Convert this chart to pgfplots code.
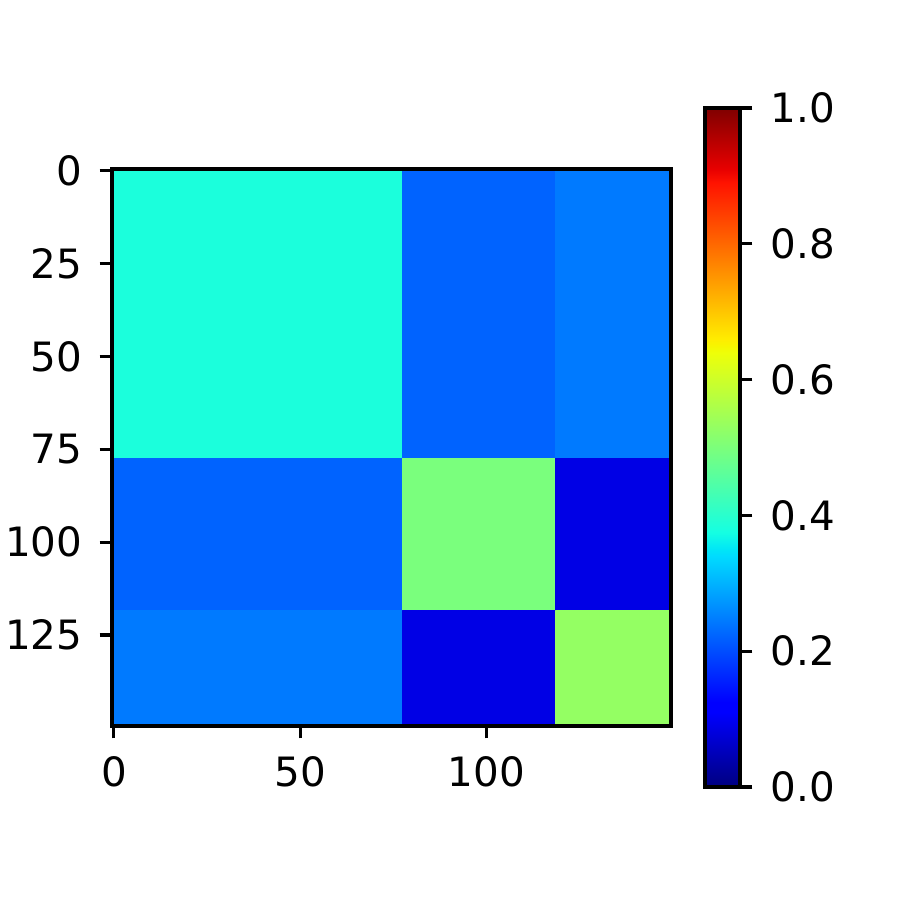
\documentclass[border=0pt]{standalone}
\usepackage{fontspec}
\setmainfont{DejaVu Sans}
\usepackage{pgfplots}
\pgfplotsset{compat=1.18}

\pgfplotsset{
  colormap={mpljet}{
    rgb(0pt)=(0,0,0.5)
    rgb(11pt)=(0,0,1)
    rgb(12.5pt)=(0,0,1)
    rgb(34pt)=(0,0.86,1)
    rgb(35pt)=(0,0.9,0.968)
    rgb(37.5pt)=(0.081,1,0.887)
    rgb(64pt)=(0.935,1,0.032)
    rgb(65pt)=(0.968,0.963,0)
    rgb(66pt)=(1,0.926,0)
    rgb(89pt)=(1,0.074,0)
    rgb(91pt)=(0.909,0,0)
    rgb(100pt)=(0.5,0,0)
  },
  /pgf/number format/assume math mode=true,
}

% block matrix, cell edges at -0.5 / 77.5 / 118.5 / 149.5
\pgfplotstableread{
x y c
-0.5 -0.5 0.383
77.5 -0.5 0.383
77.5 77.5 0.383
-0.5 77.5 0.383
77.5 -0.5 0.222
118.5 -0.5 0.222
118.5 77.5 0.222
77.5 77.5 0.222
118.5 -0.5 0.245
149.5 -0.5 0.245
149.5 77.5 0.245
118.5 77.5 0.245
-0.5 77.5 0.222
77.5 77.5 0.222
77.5 118.5 0.222
-0.5 118.5 0.222
77.5 77.5 0.498
118.5 77.5 0.498
118.5 118.5 0.498
77.5 118.5 0.498
118.5 77.5 0.088
149.5 77.5 0.088
149.5 118.5 0.088
118.5 118.5 0.088
-0.5 118.5 0.245
77.5 118.5 0.245
77.5 149.5 0.245
-0.5 149.5 0.245
77.5 118.5 0.088
118.5 118.5 0.088
118.5 149.5 0.088
77.5 149.5 0.088
118.5 118.5 0.530
149.5 118.5 0.530
149.5 149.5 0.530
118.5 149.5 0.530
}\blocks

\begin{document}
\begin{tikzpicture}
\useasboundingbox (0,0) rectangle (9cm,9cm);
\begin{axis}[
    at={(1.12cm,1.74cm)}, anchor=south west,
    scale only axis,
    width=5.59cm, height=5.57cm,
    xmin=-0.5, xmax=149.5,
    ymin=-0.5, ymax=149.5,
    y dir=reverse,
    axis on top,
    colormap name=mpljet,
    point meta min=0, point meta max=1,
    xtick={0,50,100},
    ytick={0,25,50,75,100,125},
    tick pos=left,
    tick align=outside,
    major tick length=3.5pt,
    every tick/.style={black, line width=0.9pt},
    axis line style={line width=1pt},
    tick label style={font=\fontsize{11.5}{13}\selectfont},
    xticklabel style={yshift=-1.7pt},
    yticklabel style={xshift=-1.4pt},
    colorbar,
    colorbar style={
        at={(1.0608,-0.1095)}, anchor=south west,
        width=0.35cm, height=6.79cm,
        scale only axis,
        ytick={0,0.2,0.4,0.6,0.8,1},
        yticklabel style={xshift=1.7pt, /pgf/number format/.cd, fixed, fixed zerofill, precision=1},
        ytick pos=right,
        tick align=outside,
        major tick length=3.5pt,
        every tick/.style={black, line width=0.9pt},
        axis line style={line width=1pt},
        tick label style={font=\fontsize{11.5}{13}\selectfont},
    },
]
\addplot[patch, patch type=rectangle, shader=flat, point meta=explicit]
    table[x=x, y=y, meta=c] {\blocks};
\end{axis}
\end{tikzpicture}
\end{document}
